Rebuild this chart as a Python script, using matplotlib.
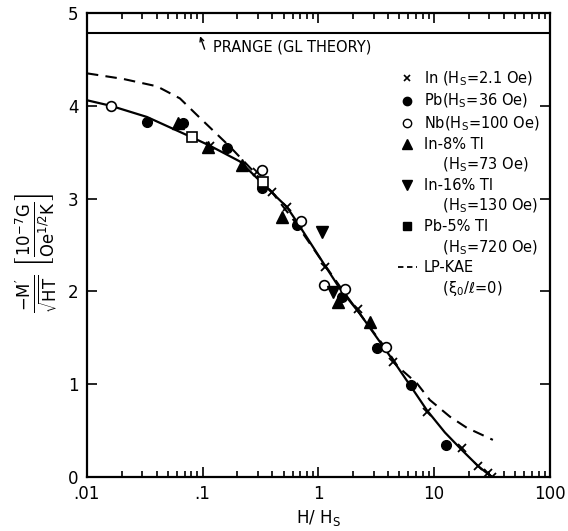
"""Reduced magnetization vs H/Hs: data points, theory curve and LP-KAE curve."""
import matplotlib
matplotlib.use("Agg")
import matplotlib.pyplot as plt
from matplotlib.lines import Line2D
from matplotlib.ticker import FixedLocator, FixedFormatter, LogLocator, NullFormatter

plt.rcParams['font.family'] = ['DejaVu Sans']
plt.rcParams['mathtext.default'] = 'regular'
plt.rcParams['mathtext.fontset'] = 'dejavusans'

# solid theory curve
theory_x = [0.01, 0.0161, 0.033, 0.0808, 0.1155, 0.21, 0.325, 0.534, 0.652,
            1.138, 1.534, 2.283, 4.40, 7.10, 8.66, 12.4, 17.4, 23.9, 31.5]
theory_y = [4.06, 4.00, 3.88, 3.66, 3.57, 3.40, 3.17, 2.91, 2.75,
            2.28, 2.03, 1.76, 1.26, 0.88, 0.72, 0.48, 0.29, 0.12, 0.0]

# dashed LP-KAE curve
lpkae_x = [0.01, 0.0205, 0.0403, 0.0636, 0.0947, 0.172, 0.272, 0.397, 0.627,
           1.03, 1.69, 2.68, 3.91, 4.86, 7.10, 9.19, 13.7, 19.2, 32.2]
lpkae_y = [4.35, 4.29, 4.21, 4.08, 3.87, 3.56, 3.30, 3.07, 2.75,
           2.36, 1.98, 1.64, 1.37, 1.19, 1.01, 0.83, 0.65, 0.53, 0.40]

# data points
in_x = [0.1155, 0.294, 0.397, 0.534, 1.138, 2.2, 4.40, 8.66, 17.4, 23.9, 29.1, 31.5]
in_y = [3.57, 3.29, 3.07, 2.91, 2.26, 1.81, 1.24, 0.70, 0.31, 0.12, 0.04, 0.0]

pb_x = [0.033, 0.067, 0.162, 0.325, 0.652, 1.60, 3.2, 6.30, 12.6]
pb_y = [3.83, 3.81, 3.55, 3.11, 2.72, 1.94, 1.39, 0.99, 0.34]

nb_x = [0.0161, 0.325, 0.706, 1.116, 1.69, 3.83]
nb_y = [4.00, 3.31, 2.76, 2.07, 2.03, 1.40]

in8_x = [0.061, 0.111, 0.218, 0.484, 1.47, 2.79]
in8_y = [3.81, 3.56, 3.36, 2.80, 1.89, 1.67]

in16_x = [1.07, 1.33]
in16_y = [2.64, 1.99]

pb5_x = [0.081, 0.331]
pb5_y = [3.66, 3.18]

prange_level = 4.78

x_ticks = [0.01, 0.1, 1, 10, 100]
x_tick_labels = ['.01', '.1', '1', '10', '100']
y_ticks = [0, 1, 2, 3, 4, 5]

fig = plt.figure(figsize=(5.68, 5.31), dpi=100)
ax = fig.add_axes([0.153, 0.1017, 0.815, 0.8738])

ax.plot(theory_x, theory_y, color='black', lw=1.6, zorder=2)
ax.plot(lpkae_x, lpkae_y, color='black', lw=1.5, ls=(0, (5.5, 3.5)), zorder=2)

ax.plot(in_x, in_y, ls='none', marker='x', color='black', ms=6, mew=1.3, zorder=3)
ax.plot(pb_x, pb_y, ls='none', marker='o', color='black', ms=7, zorder=3)
ax.plot(nb_x, nb_y, ls='none', marker='o', mfc='white', mec='black', ms=7, mew=1.2, zorder=3)
ax.plot(in8_x, in8_y, ls='none', marker='^', color='black', ms=8, zorder=3)
ax.plot(in16_x, in16_y, ls='none', marker='v', color='black', ms=8, zorder=3)
ax.plot(pb5_x, pb5_y, ls='none', marker='s', mfc='white', mec='black', ms=7, mew=1.2, zorder=3)

# Prange (GL theory) level
ax.axhline(prange_level, color='black', lw=1.5)
ax.annotate('', xy=(0.095, 4.75), xytext=(0.104, 4.61),
            arrowprops=dict(arrowstyle='->', lw=1, color='black',
                            shrinkA=0, shrinkB=0, mutation_scale=7))
ax.text(0.123, 4.63, 'PRANGE (GL THEORY)', fontsize=10.5, va='center', ha='left')

ax.set_xscale('log')
ax.set_xlim(0.01, 100)
ax.set_ylim(0, 5)
ax.xaxis.set_major_locator(FixedLocator(x_ticks))
ax.xaxis.set_major_formatter(FixedFormatter(x_tick_labels))
ax.xaxis.set_minor_locator(LogLocator(base=10, subs=range(2, 10), numticks=20))
ax.xaxis.set_minor_formatter(NullFormatter())
ax.set_yticks(y_ticks)

ax.tick_params(which='both', direction='in', top=True, right=True,
               labelsize=12, width=1.2, pad=6)
ax.tick_params(which='major', length=7)
ax.tick_params(which='minor', length=4)
for s in ax.spines.values():
    s.set_linewidth(1.6)

ax.set_xlabel('H/ H$_S$', fontsize=12, va='center')
ax.set_ylabel(r"$\frac{-M'}{\sqrt{HT}}\ \left[\frac{10^{-7}G}{Oe^{1/2}K}\right]$",
              fontsize=17, va='center')
ax.yaxis.set_label_coords(-0.108, 0.483)
ax.xaxis.set_label_coords(0.5, -0.088)

# legend, continuation lines as empty rows
blank = Line2D([], [], ls='none')
handles = [
    Line2D([], [], ls='none', marker='x', color='black', ms=5, mew=1.2),
    Line2D([], [], ls='none', marker='o', color='black', ms=6),
    Line2D([], [], ls='none', marker='o', mfc='white', mec='black', ms=6),
    Line2D([], [], ls='none', marker='^', color='black', ms=7),
    blank,
    Line2D([], [], ls='none', marker='v', color='black', ms=7),
    blank,
    Line2D([], [], ls='none', marker='s', color='black', ms=6),
    blank,
    Line2D([], [], ls=(0, (3, 2)), color='black', lw=1.3),
    blank,
]
labels = [
    'In (H$_S$=2.1 Oe)',
    'Pb(H$_S$=36 Oe)',
    'Nb(H$_S$=100 Oe)',
    'In-8% Tl',
    '    (H$_S$=73 Oe)',
    'In-16% Tl',
    '    (H$_S$=130 Oe)',
    'Pb-5% Tl',
    '    (H$_S$=720 Oe)',
    'LP-KAE',
    '    ($\\xi_0$/\u2113=0)',
]
ax.legend(handles, labels, loc='upper right', bbox_to_anchor=(1.0, 0.9),
          frameon=False, fontsize=10.5, handlelength=1.3, handletextpad=0.5,
          labelspacing=0.27, borderaxespad=0.3)

fig.savefig('out.png', dpi=100)
